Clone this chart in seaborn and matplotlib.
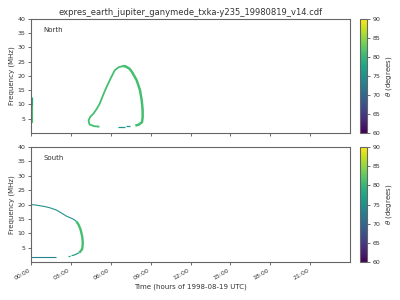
import matplotlib
matplotlib.use("Agg")
import matplotlib.pyplot as plt
import seaborn as sns
import pandas as pd
from matplotlib.cm import ScalarMappable
from matplotlib.colors import Normalize

title = "expres_earth_jupiter_ganymede_txka-y235_19980819_v14.cdf"
hour_ticks = [0, 3, 6, 9, 12, 15, 18, 21]
hour_labels = ["00:00", "03:00", "06:00", "09:00", "12:00", "15:00", "18:00", "21:00"]
freq_ticks = [5, 10, 15, 20, 25, 30, 35, 40]
cbar_ticks = [60, 65, 70, 75, 80, 85, 90]
panel_names = ["North", "South"]

# North hemisphere emission (time in hours, frequency in MHz, theta in degrees)
north_edge_t = [0.06, 0.06]
north_edge_f = [3.45, 9.7]
north_edge_theta = 81
north_edge2_t = [0.06, 0.06]
north_edge2_f = [9.7, 12.6]
north_edge2_theta = 78
north_left_t = [5.15, 4.75, 4.4, 4.33, 4.45, 4.7, 4.95, 5.17, 5.47, 5.68, 6.05, 6.3, 6.6, 6.95]
north_left_f = [2.2, 2.4, 3.0, 4.4, 5.6, 6.8, 8.5, 10.3, 13.8, 16.1, 19.7, 22.0, 23.1, 23.5]
north_right_t = [6.9, 7.1, 7.4, 7.6, 7.95, 8.2, 8.33, 8.4, 8.4, 8.35, 8.1, 7.85]
north_right_f = [23.5, 23.4, 22.6, 21.4, 18.5, 15.0, 11.45, 8.0, 5.5, 3.8, 2.9, 2.6]
north_loop_theta = 81
north_dash1_t = [6.55, 7.05]
north_dash1_f = [2.2, 2.2]
north_dash2_t = [7.13, 7.43]
north_dash2_f = [2.45, 2.45]
dash_theta = 76

# South hemisphere emission
south_top_t = [0.0, 0.4, 1.03, 1.4, 1.9, 2.27, 2.65, 3.15, 3.4]
south_top_f = [20.0, 19.8, 19.3, 18.9, 18.1, 17.1, 16.0, 15.0, 14.2]
south_top_theta = 75
south_nose_t = [3.4, 3.58, 3.73, 3.85, 3.9, 3.85, 3.65]
south_nose_f = [14.2, 13.0, 11.3, 8.9, 6.6, 4.5, 3.3]
south_nose_theta = 81
south_lower_t = [3.65, 3.3, 3.05]
south_lower_f = [3.3, 2.5, 2.2]
south_lower_theta = 77
south_dash_t = [2.75, 2.95]
south_dash_f = [2.1, 2.1]
south_bottom_t = [0.0, 1.85]
south_bottom_f = [1.65, 1.65]
south_bottom_theta = 73

north_segments = [
    (north_edge_t, north_edge_f, north_edge_theta, 1.5),
    (north_edge2_t, north_edge2_f, north_edge2_theta, 0.9),
    (north_left_t, north_left_f, north_loop_theta, 1.3),
    (north_right_t, north_right_f, north_loop_theta, 1.8),
    (north_dash1_t, north_dash1_f, dash_theta, 0.9),
    (north_dash2_t, north_dash2_f, dash_theta, 0.9),
]
south_segments = [
    (south_top_t, south_top_f, south_top_theta, 0.8),
    (south_nose_t, south_nose_f, south_nose_theta, 1.7),
    (south_lower_t, south_lower_f, south_lower_theta, 0.9),
    (south_dash_t, south_dash_f, south_lower_theta, 0.9),
    (south_bottom_t, south_bottom_f, south_bottom_theta, 0.8),
]

sns.set_style("ticks")
plt.rcParams["font.family"] = ["DejaVu Sans"]
plt.rcParams["text.color"] = "#333333"
plt.rcParams["axes.labelcolor"] = "#333333"
plt.rcParams["xtick.color"] = "#555555"
plt.rcParams["ytick.color"] = "#555555"
plt.rcParams["xtick.labelcolor"] = "#333333"
plt.rcParams["ytick.labelcolor"] = "#333333"

norm = Normalize(60, 90)
fig = plt.figure(figsize=(4, 3), dpi=100)
ax_rects = [[0.0775, 0.5567, 0.7975, 0.38], [0.0775, 0.1267, 0.7975, 0.383]]
cb_rects = [[0.9, 0.5567, 0.0165, 0.38], [0.9, 0.1267, 0.0165, 0.383]]

for i, segs in enumerate([north_segments, south_segments]):
    ax = fig.add_axes(ax_rects[i])
    for k, (t, f, th, lw) in enumerate(segs):
        df = pd.DataFrame({"time": t, "freq": f, "theta": [th] * len(t)})
        sns.lineplot(data=df, x="time", y="freq", hue="theta", palette="viridis",
                     hue_norm=norm, estimator=None, sort=False, linewidth=lw,
                     legend=False, ax=ax, solid_capstyle="butt")
    ax.set_xlim(0, 24)
    ax.set_ylim(0, 40)
    ax.set_yticks(freq_ticks)
    ax.set_xticks(hour_ticks)
    ax.set_ylabel("Frequency (MHz)", fontsize=5, labelpad=2)
    ax.tick_params(labelsize=4.5, length=2.5, width=0.6, pad=1.5)
    for s in ax.spines.values():
        s.set_visible(True)
        s.set_color("#666666")
        s.set_linewidth(0.8)
    ax.text(0.038, 0.905, panel_names[i], transform=ax.transAxes, fontsize=5,
            va="center", ha="left")
    if i == 0:
        ax.set_xticklabels([])
        ax.set_xlabel("")
        ax.set_title(title, fontsize=6, pad=3)
    else:
        ax.set_xticklabels(hour_labels, rotation=30, ha="right")
        ax.set_xlabel("Time (hours of 1998-08-19 UTC)", fontsize=5, labelpad=2)
    cax = fig.add_axes(cb_rects[i])
    sm = ScalarMappable(norm=norm, cmap="viridis")
    cb = fig.colorbar(sm, cax=cax, ticks=cbar_ticks)
    cb.outline.set_edgecolor("#666666")
    cb.outline.set_linewidth(0.8)
    cax.tick_params(labelsize=4.5, length=2.5, width=0.6, pad=1.5)
    cb.set_label(r"$\theta$ (degrees)", fontsize=5, labelpad=3)

fig.savefig("out.png", dpi=100)
